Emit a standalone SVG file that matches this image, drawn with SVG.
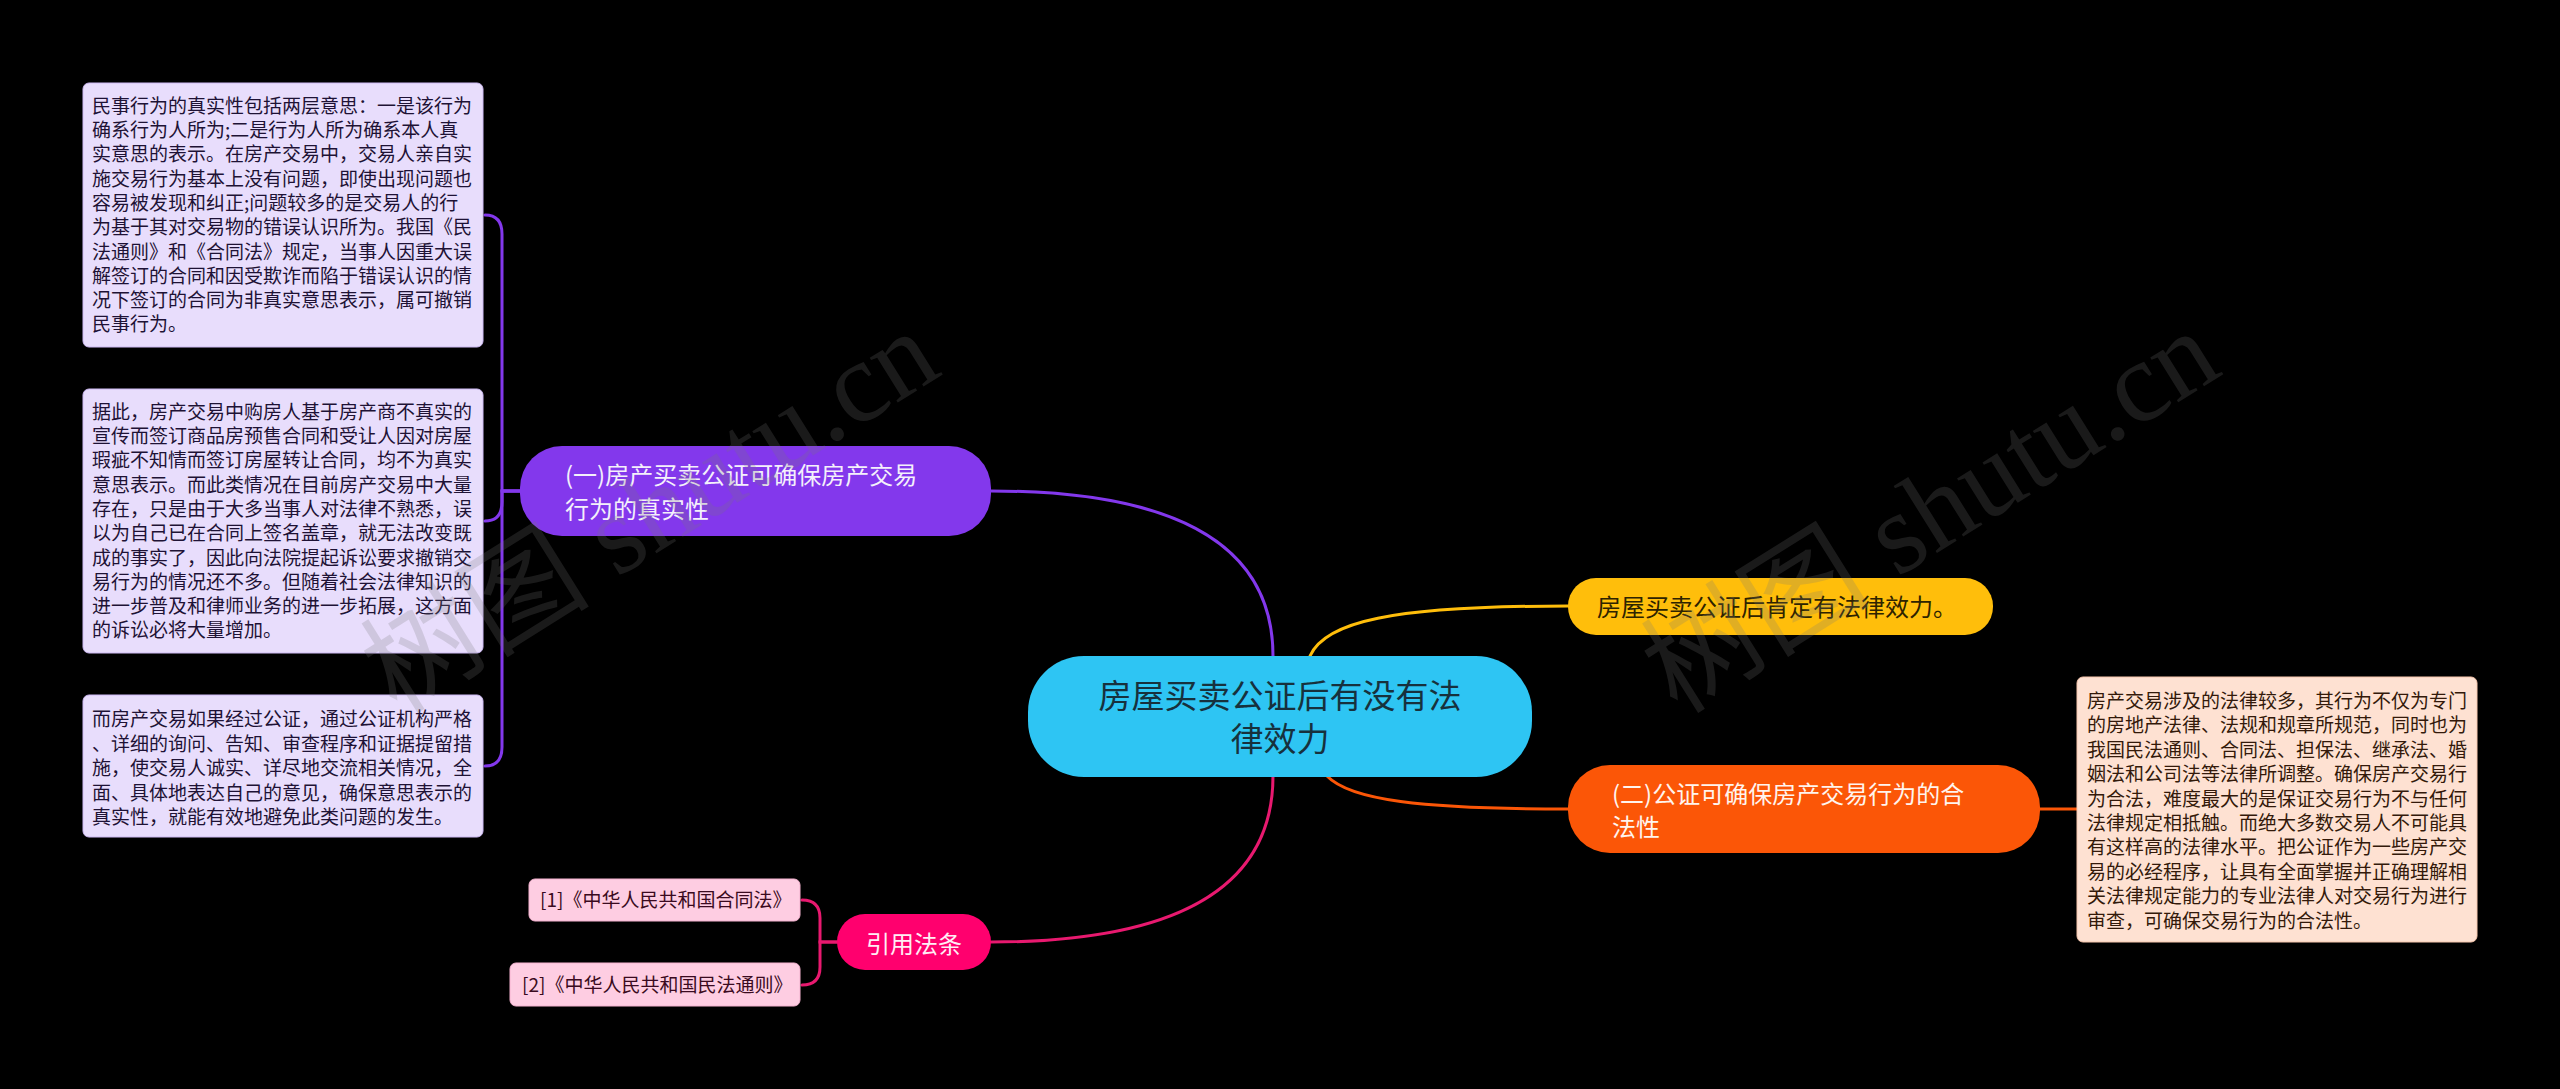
<svg xmlns="http://www.w3.org/2000/svg" width="2560" height="1089" viewBox="0 0 2560 1089">
<style>
text{font-family:"Noto Sans CJK SC","Noto Sans",sans-serif;}
.conn{fill:none;stroke-width:3;stroke-linecap:round;}
.leaf{font-size:19px;}
.mid{font-size:24px;}
.wm{font-family:"Liberation Serif","Noto Sans CJK SC",serif;font-size:115px;fill:#777;opacity:0.22;}
</style>
<rect width="2560" height="1089" fill="#000"/>
<g id="connectors">
<path class="conn" stroke="#8338EC" d="M991 491 Q1273 491 1273 656"/>
<path class="conn" stroke="#FFBE0B" d="M1310 656 C1325 622 1390 606 1568 606"/>
<path class="conn" stroke="#FB5607" d="M1327 776 C1350 800 1420 809 1568 809"/>
<path class="conn" stroke="#E8196F" d="M991 942 Q1273 942 1273 776"/>
<path class="conn" stroke="#8338EC" stroke-width="2.5" d="M520 491 H502 V234 Q502 215 485 215"/>
<path class="conn" stroke="#8338EC" stroke-width="2.5" d="M520 491 H502 V502 Q502 521 485 521"/>
<path class="conn" stroke="#8338EC" stroke-width="2.5" d="M520 491 H502 V747 Q502 766 485 766"/>
<path class="conn" stroke="#FB5607" stroke-width="2.5" d="M2040 809 H2077"/>
<path class="conn" stroke="#E8196F" stroke-width="2.5" d="M837 942 H820 V918 Q820 900 802 900"/>
<path class="conn" stroke="#E8196F" stroke-width="2.5" d="M837 942 H820 V967 Q820 985 802 985"/>
</g>
<g id="central">
<rect x="1028" y="656" width="504" height="121" rx="56" fill="#2EC5F3"/>
<text x="1280" y="708" font-size="33" fill="#17313d" text-anchor="middle">房屋买卖公证后有没有法</text>
<text x="1280" y="751" font-size="33" fill="#17313d" text-anchor="middle">律效力</text>
</g>
<g id="node-purple">
<rect x="520" y="446" width="471" height="90" rx="42" fill="#8338EC"/>
<text class="mid" x="565" y="484" fill="#f4f0fb">(一)房产买卖公证可确保房产交易</text>
<text class="mid" x="565" y="518" fill="#f4f0fb">行为的真实性</text>
</g>
<g id="node-yellow">
<rect x="1568" y="578" width="425" height="57" rx="28" fill="#FFBE0B"/>
<text class="mid" x="1597" y="616" fill="#2e2300">房屋买卖公证后肯定有法律效力。</text>
</g>
<g id="node-orange">
<rect x="1568" y="765" width="472" height="88" rx="42" fill="#FB5607"/>
<text class="mid" x="1612" y="803" fill="#fff4ee">(二)公证可确保房产交易行为的合</text>
<text class="mid" x="1612" y="836" fill="#fff4ee">法性</text>
</g>
<g id="node-pink">
<rect x="837" y="914" width="154" height="56" rx="28" fill="#FF006E"/>
<text class="mid" x="914" y="953" fill="#ffeef5" text-anchor="middle">引用法条</text>
</g>
<g id="leaf-p1">
<rect x="83" y="83" width="400" height="264" rx="6" fill="#E8DDFC" stroke="#cdb9f3" stroke-width="1"/>
<text class="leaf" fill="#1e1235"><tspan x="92" y="112.7">民事行为的真实性包括两层意思：一是该行为</tspan><tspan x="92" dy="24.3">确系行为人所为;二是行为人所为确系本人真</tspan><tspan x="92" dy="24.3">实意思的表示。在房产交易中，交易人亲自实</tspan><tspan x="92" dy="24.3">施交易行为基本上没有问题，即使出现问题也</tspan><tspan x="92" dy="24.3">容易被发现和纠正;问题较多的是交易人的行</tspan><tspan x="92" dy="24.3">为基于其对交易物的错误认识所为。我国《民</tspan><tspan x="92" dy="24.3">法通则》和《合同法》规定，当事人因重大误</tspan><tspan x="92" dy="24.3">解签订的合同和因受欺诈而陷于错误认识的情</tspan><tspan x="92" dy="24.3">况下签订的合同为非真实意思表示，属可撤销</tspan><tspan x="92" dy="24.3">民事行为。</tspan></text>
</g>
<g id="leaf-p2">
<rect x="83" y="389" width="400" height="264" rx="6" fill="#E8DDFC" stroke="#cdb9f3" stroke-width="1"/>
<text class="leaf" fill="#1e1235"><tspan x="92" y="418.7">据此，房产交易中购房人基于房产商不真实的</tspan><tspan x="92" dy="24.3">宣传而签订商品房预售合同和受让人因对房屋</tspan><tspan x="92" dy="24.3">瑕疵不知情而签订房屋转让合同，均不为真实</tspan><tspan x="92" dy="24.3">意思表示。而此类情况在目前房产交易中大量</tspan><tspan x="92" dy="24.3">存在，只是由于大多当事人对法律不熟悉，误</tspan><tspan x="92" dy="24.3">以为自己已在合同上签名盖章，就无法改变既</tspan><tspan x="92" dy="24.3">成的事实了，因此向法院提起诉讼要求撤销交</tspan><tspan x="92" dy="24.3">易行为的情况还不多。但随着社会法律知识的</tspan><tspan x="92" dy="24.3">进一步普及和律师业务的进一步拓展，这方面</tspan><tspan x="92" dy="24.3">的诉讼必将大量增加。</tspan></text>
</g>
<g id="leaf-p3">
<rect x="83" y="695" width="400" height="142" rx="6" fill="#E8DDFC" stroke="#cdb9f3" stroke-width="1"/>
<text class="leaf" fill="#1e1235"><tspan x="92" y="726">而房产交易如果经过公证，通过公证机构严格</tspan><tspan x="92" dy="24.5">、详细的询问、告知、审查程序和证据提留措</tspan><tspan x="92" dy="24.5">施，使交易人诚实、详尽地交流相关情况，全</tspan><tspan x="92" dy="24.5">面、具体地表达自己的意见，确保意思表示的</tspan><tspan x="92" dy="24.5">真实性，就能有效地避免此类问题的发生。</tspan></text>
</g>
<g id="leaf-o1">
<rect x="2077" y="677" width="400" height="265" rx="6" fill="#FEE1D2" stroke="#f6c6ad" stroke-width="1"/>
<text class="leaf" fill="#33190a"><tspan x="2087" y="708">房产交易涉及的法律较多，其行为不仅为专门</tspan><tspan x="2087" dy="24.4">的房地产法律、法规和规章所规范，同时也为</tspan><tspan x="2087" dy="24.4">我国民法通则、合同法、担保法、继承法、婚</tspan><tspan x="2087" dy="24.4">姻法和公司法等法律所调整。确保房产交易行</tspan><tspan x="2087" dy="24.4">为合法，难度最大的是保证交易行为不与任何</tspan><tspan x="2087" dy="24.4">法律规定相抵触。而绝大多数交易人不可能具</tspan><tspan x="2087" dy="24.4">有这样高的法律水平。把公证作为一些房产交</tspan><tspan x="2087" dy="24.4">易的必经程序，让具有全面掌握并正确理解相</tspan><tspan x="2087" dy="24.4">关法律规定能力的专业法律人对交易行为进行</tspan><tspan x="2087" dy="24.4">审查，可确保交易行为的合法性。</tspan></text>
</g>
<g id="leaf-r1">
<rect x="529" y="879" width="271" height="42" rx="6" fill="#FECDE2" stroke="#f5b3d0" stroke-width="1"/>
<text class="leaf" x="540" y="907" fill="#3a0a20">[1]《中华人民共和国合同法》</text>
</g>
<g id="leaf-r2">
<rect x="510" y="963" width="290" height="43" rx="6" fill="#FECDE2" stroke="#f5b3d0" stroke-width="1"/>
<text class="leaf" x="522" y="992" fill="#3a0a20">[2]《中华人民共和国民法通则》</text>
</g>
<g id="watermarks">
<text class="wm" x="651" y="550" text-anchor="middle" transform="rotate(-32 651 513)">树图 shutu.cn</text>
<text class="wm" x="1931" y="550" text-anchor="middle" transform="rotate(-32 1931 512)">树图 shutu.cn</text>
</g>
</svg>
